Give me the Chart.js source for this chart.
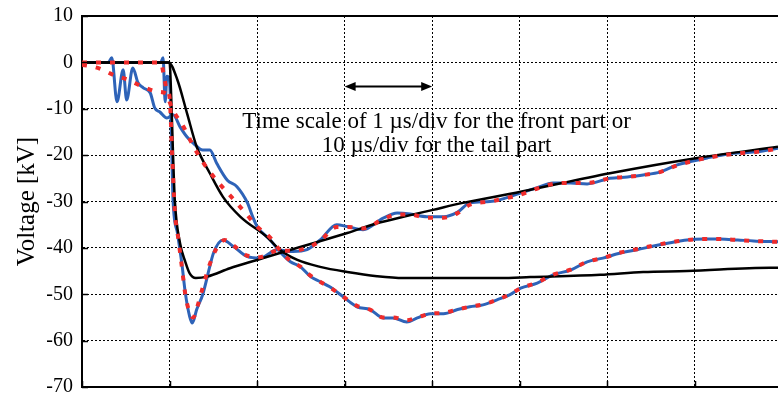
<!DOCTYPE html>
<html lang="en">
<head>
<meta charset="UTF-8">
<title>Voltage waveforms</title>
<script src="https://cdn.jsdelivr.net/npm/chart.js"></script>
<style>
  html, body { margin: 0; padding: 0; background: #fff; }
  #wrap { width: 778px; height: 398px; }
</style>
</head>
<body>
<div id="wrap"><canvas id="myChart"></canvas></div>
<script>
// time in divisions (1 us/div for the front, 10 us/div for the tail), voltage in kV

// front part - measured
const frontTime = [0, 0.3, 0.34, 0.4, 0.47, 0.51, 0.58, 0.64, 0.7, 0.78, 0.83, 0.89, 0.97, 1.04, 1.12, 1.2, 1.27, 1.38, 1.46, 1.54, 1.66, 1.77, 1.89, 1.95, 2.0, 2.15, 2.26, 2.38, 2.49, 2.61, 2.72, 2.83, 2.98, 3.14, 3.29, 3.44, 3.55, 3.71, 3.83, 3.98, 4.13, 4.29, 4.43, 4.58, 4.74, 4.89, 5.01, 5.2, 5.38, 5.58, 5.77, 5.95, 6.15, 6.34, 6.53, 6.72, 6.91, 7.1, 7.29, 7.49, 7.67, 7.95];
const frontMeasured = [0, 0, 1, -8.5, -1.6, -8.1, -1.2, -4.4, -5.5, -6.6, -9.8, -10.7, -12, -11.3, -13.9, -16.1, -17.4, -18.9, -18.9, -21.8, -25.4, -26.8, -30.3, -33.3, -35.4, -38.3, -40.8, -43, -44, -46.2, -47.3, -48.4, -50.5, -52.7, -53.3, -55.1, -55.1, -56, -55.1, -54.2, -54.2, -53.3, -52.7, -52.3, -51.2, -50.1, -48.7, -47.6, -45.8, -44.8, -43, -42.2, -41.1, -40.4, -39.6, -38.9, -38.3, -38.1, -38.1, -38.3, -38.5, -38.7];

// front part - simulated
const frontSimTime = [0, 0.18, 0.36, 0.53, 0.7, 0.86, 0.97, 1.0, 1.04, 1.16, 1.27, 1.38, 1.54, 1.73, 1.89, 2.0, 2.15, 2.26, 2.38, 2.49, 2.61, 2.72, 2.83, 2.98, 3.14, 3.29, 3.44, 3.55, 3.71, 3.83, 3.98, 4.13, 4.29, 4.43, 4.58, 4.74, 4.89, 5.01, 5.2, 5.38, 5.58, 5.77, 5.95, 6.15, 6.34, 6.53, 6.72, 6.91, 7.1, 7.29, 7.49, 7.67, 7.95];
const frontSimulated = [-0.5, -1.2, -2.7, -3.8, -5.3, -6.3, -6.8, -8.5, -10.3, -13.9, -18, -21.5, -25.5, -29.5, -33, -35.4, -37.8, -40.5, -42.8, -44, -46, -47.3, -48.5, -50.5, -52.5, -53.3, -55, -55, -55.6, -55, -54.2, -54, -53.3, -52.7, -52.2, -51.2, -50, -48.7, -47.5, -45.8, -44.7, -43, -42.2, -41, -40.3, -39.5, -38.8, -38.3, -38.1, -38.1, -38.3, -38.5, -38.7];

// front part - reference waveform
const frontRefTime = [0, 0.99, 1.09, 1.2, 1.31, 1.46, 1.61, 1.81, 2.11, 2.26, 2.46, 2.72, 3.03, 3.37, 3.67, 4.78, 5.12, 5.92, 6.41, 6.91, 7.86, 7.95];
const frontReference = [0, 0, -3.8, -11, -18.2, -23.9, -29, -33.3, -37.6, -40.4, -42.6, -44.1, -45.2, -46.1, -46.5, -46.5, -46.3, -45.8, -45.2, -45, -44.3, -44.3];

// tail part - measured
const tailTime = [0, 0.9, 0.926, 0.95, 0.97, 1.0, 1.02, 1.04, 1.09, 1.14, 1.18, 1.23, 1.26, 1.31, 1.38, 1.46, 1.5, 1.61, 1.73, 1.89, 2.03, 2.23, 2.41, 2.57, 2.72, 2.91, 3.03, 3.21, 3.44, 3.6, 3.75, 3.94, 4.13, 4.29, 4.43, 4.66, 5.01, 5.2, 5.38, 5.58, 5.77, 6.03, 6.23, 6.41, 6.61, 6.8, 6.95, 7.14, 7.33, 7.52, 7.71, 7.95];
const tailMeasured = [0, 0, 1, -8.5, -3, -4, -15, -29.7, -36.8, -43.3, -49.7, -54.8, -56.2, -53.3, -50, -44, -41.2, -38.3, -39.7, -41.9, -42.2, -40.4, -40.8, -40.4, -38.3, -35, -35.4, -36.1, -33.6, -32.5, -32.7, -33.3, -33.3, -32.3, -30.3, -30, -28.2, -27, -26, -26, -26.2, -25, -24.7, -24.3, -23.6, -22.1, -21.4, -20.6, -19.9, -19.5, -19.3, -18.5];

// tail part - simulated
const tailSimTime = [0, 0.5, 0.9, 0.93, 0.97, 1.0, 1.03, 1.06, 1.1, 1.14, 1.18, 1.23, 1.27, 1.32, 1.38, 1.46, 1.54, 1.63, 1.73, 1.89, 2.03, 2.23, 2.41, 2.57, 2.72, 2.91, 3.03, 3.21, 3.44, 3.6, 3.75, 3.94, 4.13, 4.29, 4.43, 4.66, 5.01, 5.2, 5.38, 5.58, 5.77, 6.03, 6.23, 6.41, 6.61, 6.8, 6.95, 7.14, 7.33, 7.52, 7.71, 7.95];
const tailSimulated = [0, 0, 0, -2.3, -6, -7.4, -20, -32, -38, -44, -50, -54, -55, -52.5, -48.5, -43.5, -40, -38.3, -39.5, -41.7, -42, -40.6, -40.6, -40, -38.5, -35.5, -35.5, -35.8, -33.8, -32.8, -32.8, -33.5, -33.5, -32.5, -30.7, -30, -28.5, -27.2, -26.2, -26, -26, -25, -24.7, -24.3, -23.6, -22.2, -21.4, -20.6, -20, -19.6, -19.3, -18.6];

// tail part - reference waveform
const tailRefTime = [0, 1.0, 1.02, 1.04, 1.06, 1.12, 1.18, 1.23, 1.3, 1.43, 1.69, 2.0, 2.26, 2.64, 3.03, 3.37, 3.67, 4.01, 4.35, 5.01, 6.03, 7.03, 7.95];
const tailReference = [0, 0, -8, -20, -29.7, -39, -43, -45.5, -46.5, -46.2, -44.4, -42.6, -41.1, -39, -36.8, -34.7, -33.3, -31.8, -30.3, -27.9, -23.9, -20.6, -18.2];

const noteLines = ['Time scale of 1 \u00b5s/div for the front part or', '10 \u00b5s/div for the tail part'];

const BLUE = '#2e63b8';
const RED = '#ef2b2b';
const SERIF = '"Liberation Serif", "Times New Roman", serif';

function pts(xs, ys) {
    return xs.map((x, i) => ({ x: x, y: ys[i] }));
}

function measured(xs, ys) {
    return { data: pts(xs, ys), borderColor: BLUE, borderWidth: 3, order: 3 };
}
function simulated(xs, ys) {
    return { data: pts(xs, ys), borderColor: RED, borderWidth: 4, borderDash: [5, 9], order: 1 };
}
function reference(xs, ys) {
    return { data: pts(xs, ys), borderColor: '#000', borderWidth: 2.5, order: 2 };
}

// frame top line, inward tick marks, arrow and note
const decor = {
    id: 'decor',
    afterDraw(chart) {
        const ctx = chart.ctx;
        const a = chart.chartArea;
        const xs = chart.scales.x, ys = chart.scales.y;
        ctx.save();
        ctx.strokeStyle = '#000';
        ctx.lineWidth = 2;
        ctx.beginPath();
        ctx.moveTo(a.left - 1, a.top);
        ctx.lineTo(a.right, a.top);
        ctx.stroke();

        ctx.lineWidth = 1.5;
        xs.ticks.forEach(t => {
            const px = Math.round(xs.getPixelForValue(t.value)) + 0.5;
            ctx.beginPath();
            ctx.moveTo(px, a.bottom);
            ctx.lineTo(px, a.bottom - 6);
            ctx.stroke();
        });
        ys.ticks.forEach(t => {
            const py = Math.round(ys.getPixelForValue(t.value)) + 0.5;
            ctx.beginPath();
            ctx.moveTo(a.left, py);
            ctx.lineTo(a.left + 6, py);
            ctx.stroke();
        });

        // double arrow spanning one division
        const x1 = xs.getPixelForValue(3), x2 = xs.getPixelForValue(4);
        const ay = ys.getPixelForValue(-5.2);
        ctx.lineWidth = 2;
        ctx.beginPath();
        ctx.moveTo(x1 + 4, ay);
        ctx.lineTo(x2 - 4, ay);
        ctx.stroke();
        ctx.fillStyle = '#000';
        [[x1, 1], [x2, -1]].forEach(([x, d]) => {
            ctx.beginPath();
            ctx.moveTo(x, ay);
            ctx.lineTo(x + d * 11, ay - 4.5);
            ctx.lineTo(x + d * 11, ay + 4.5);
            ctx.closePath();
            ctx.fill();
        });

        ctx.font = '23px ' + SERIF;
        ctx.textAlign = 'center';
        ctx.textBaseline = 'alphabetic';
        const cx = xs.getPixelForValue(4.05);
        ctx.fillText(noteLines[0], cx, ys.getPixelForValue(-14.1));
        ctx.fillText(noteLines[1], cx, ys.getPixelForValue(-19.3));
        ctx.restore();
    }
};

const config = {
    type: 'line',
    data: {
        datasets: [
            measured(frontTime, frontMeasured),
            simulated(frontSimTime, frontSimulated),
            reference(frontRefTime, frontReference),
            measured(tailTime, tailMeasured),
            simulated(tailSimTime, tailSimulated),
            reference(tailRefTime, tailReference)
        ]
    },
    options: {
        responsive: true,
        maintainAspectRatio: false,
        animation: false,
        layout: { padding: { top: 16, left: 0, right: 0, bottom: 0 } },
        elements: {
            point: { radius: 0 },
            line: { cubicInterpolationMode: 'monotone', fill: false }
        },
        plugins: {
            legend: { display: false },
            tooltip: { enabled: false }
        },
        scales: {
            x: {
                type: 'linear',
                min: 0,
                max: 7.95,
                ticks: { display: false, stepSize: 1 },
                grid: { color: '#000', lineWidth: 1, drawTicks: false },
                border: { display: true, color: '#000', width: 2, dash: [2, 2] },
                afterBuildTicks: s => { s.ticks = s.ticks.filter(t => Number.isInteger(t.value)); },
                afterFit: s => { s.height = 11; s.paddingLeft = 0; s.paddingRight = 0; }
            },
            y: {
                min: -70,
                max: 10,
                ticks: {
                    stepSize: 10,
                    color: '#000',
                    padding: 9,
                    font: { family: SERIF, size: 20 }
                },
                grid: { color: '#000', lineWidth: 1, drawTicks: false },
                border: { display: true, color: '#000', width: 2, dash: [2, 2] },
                title: {
                    display: true,
                    text: 'Voltage [kV]',
                    color: '#000',
                    font: { family: SERIF, size: 25 },
                    padding: { top: 12, bottom: 0 }
                },
                afterFit: s => { s.width = 82; s.paddingTop = 0; s.paddingBottom = 0; }
            }
        }
    },
    plugins: [decor]
};

new Chart(document.getElementById('myChart'), config);
</script>
</body>
</html>
